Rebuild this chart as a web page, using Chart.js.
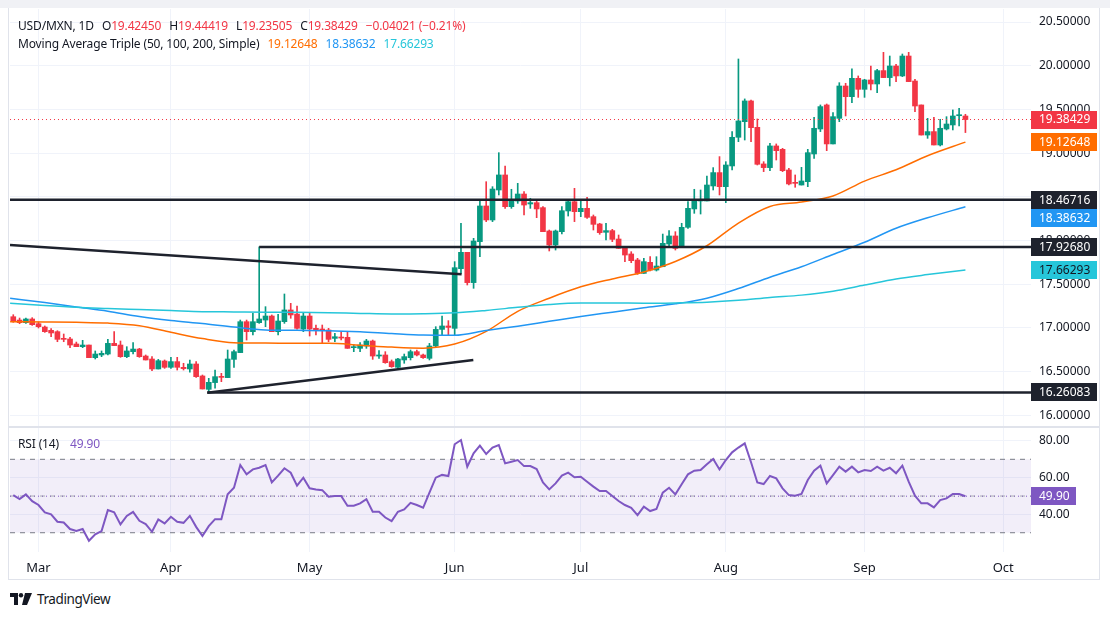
<!DOCTYPE html>
<html lang="en">
<head>
<meta charset="UTF-8">
<title>USD/MXN 1D</title>
<script src="https://cdn.jsdelivr.net/npm/chart.js"></script>
<style>
    body { margin: 0; width: 1110px; height: 618px; background: #ffffff; font-family: "Noto Sans", sans-serif; color: #131722; position: relative; overflow: hidden; }
    .topband { position: absolute; left: 0; top: 0; width: 1110px; height: 8px; background: #f0f1f5; }
    .frame { position: absolute; left: 8px; top: 8px; width: 1090px; height: 571px; border: 1.5px solid #e0e3eb; border-top: none; }
    .divider { position: absolute; left: 9px; top: 426px; width: 1091px; height: 1.5px; background: #e0e3eb; }
    canvas { position: absolute; left: 10px; }
    #priceChart { top: 9px; }
    #rsiChart { top: 427px; }
    .legend { position: absolute; left: 18px; font-size: 12px; line-height: 18px; white-space: nowrap; letter-spacing: -0.15px; }
    .legend span { margin-left: 5px; }
    .red { color: #f23645; font-weight: normal; }
    .logo { position: absolute; left: 10px; top: 590px; display: flex; align-items: center; font-size: 13.5px; letter-spacing: -0.4px; }
</style>
</head>
<body>
<div class="topband"></div>
<div class="frame"></div>
<canvas id="priceChart" width="1090" height="418"></canvas>
<canvas id="rsiChart" width="1090" height="153"></canvas>
<div class="divider"></div>

<div class="legend" style="top:17px">USD/MXN, 1D <span>O<b class="red">19.42450</b></span> <span>H<b class="red">19.44419</b></span> <span>L<b class="red">19.23505</b></span> <span>C<b class="red">19.38429</b></span> <span class="red">&minus;0.04021 (&minus;0.21%)</span></div>
<div class="legend" style="top:35px">Moving Average Triple (50, 100, 200, Simple) <span style="color:#ff6d00">19.12648</span> <span style="color:#2196f3">18.38632</span> <span style="color:#26c6da">17.66293</span></div>
<div class="legend" style="top:435px">RSI (14) <span style="color:#7e57c2;margin-left:8px">49.90</span></div>

<div class="logo">
    <svg width="22" height="12" viewBox="0 0 22 12">
        <path d="M0 0 H8 V12 H4 V4 H0 Z" fill="#131722"/>
        <circle cx="11" cy="2.2" r="2.2" fill="#131722"/>
        <path d="M15 0 H22 L17 12 H12 Z" fill="#131722"/>
    </svg>
    <span style="margin-left:5px">TradingView</span>
</div>

<script>
    // daily candles, Feb 26 .. Sep 24
    const opens = [
        17.128, 17.090, 17.060, 17.102, 17.048, 17.010, 16.972, 16.957, 16.880, 16.873,
        16.816, 16.785, 16.804, 16.659, 16.690, 16.701, 16.823, 16.804, 16.671, 16.728,
        16.758, 16.678, 16.644, 16.530, 16.621, 16.549, 16.614, 16.549, 16.530, 16.587,
        16.450, 16.297, 16.374, 16.442, 16.431, 16.640, 16.717, 17.071, 16.957, 17.060,
        17.090, 17.136, 16.957, 17.071, 17.205, 17.159, 16.987, 17.136, 16.995, 16.987,
        16.976, 16.880, 16.892, 16.892, 16.774, 16.766, 16.793, 16.850, 16.678, 16.690,
        16.614, 16.549, 16.633, 16.659, 16.728, 16.690, 16.652, 16.793, 16.983, 17.022,
        16.995, 17.678, 17.865, 17.518, 17.987, 18.395, 18.235, 18.578, 18.750, 18.387,
        18.452, 18.532, 18.418, 18.433, 18.376, 18.109, 17.949, 18.101, 18.338, 18.444,
        18.330, 18.368, 18.273, 18.189, 18.094, 18.113, 18.017, 17.918, 17.846, 17.777,
        17.624, 17.750, 17.662, 17.700, 17.960, 18.052, 17.930, 18.151, 18.361, 18.452,
        18.452, 18.624, 18.777, 18.616, 18.853, 19.181, 19.360, 19.597, 19.295, 18.876,
        18.834, 19.082, 19.043, 18.807, 18.662, 18.635, 18.673, 18.990, 19.276, 19.551,
        19.105, 19.398, 19.768, 19.646, 19.856, 19.730, 19.837, 19.791, 19.944, 19.864,
        19.997, 19.883, 20.111, 19.825, 19.551, 19.207, 19.246, 19.093, 19.276, 19.322,
        19.428, 19.4245
    ];
    const highs = [
        17.151, 17.113, 17.113, 17.117, 17.067, 17.022, 16.991, 16.968, 16.930, 16.892,
        16.838, 16.858, 16.804, 16.736, 16.736, 16.869, 16.957, 16.850, 16.785, 16.831,
        16.766, 16.690, 16.671, 16.640, 16.633, 16.663, 16.663, 16.595, 16.633, 16.614,
        16.461, 16.423, 16.518, 16.480, 16.747, 16.747, 17.090, 17.090, 17.167, 17.927,
        17.243, 17.148, 17.155, 17.388, 17.281, 17.250, 17.167, 17.167, 17.033, 17.033,
        16.995, 16.938, 16.957, 16.957, 16.804, 16.831, 16.869, 16.861, 16.740, 16.728,
        16.633, 16.652, 16.701, 16.747, 16.747, 16.701, 16.823, 17.014, 17.136, 17.083,
        17.758, 18.197, 17.865, 18.025, 18.463, 18.673, 18.616, 19.005, 18.852, 18.586,
        18.654, 18.559, 18.483, 18.464, 18.387, 18.120, 18.120, 18.387, 18.471, 18.597,
        18.452, 18.494, 18.292, 18.197, 18.197, 18.128, 18.063, 17.929, 17.872, 17.796,
        17.796, 17.815, 17.815, 18.074, 18.113, 18.101, 18.197, 18.444, 18.586, 18.578,
        18.738, 18.834, 18.960, 18.902, 19.246, 20.077, 19.620, 19.608, 19.391, 18.902,
        19.112, 19.105, 19.055, 18.826, 18.750, 18.837, 19.043, 19.410, 19.551, 19.562,
        19.463, 19.806, 19.799, 19.963, 19.883, 19.845, 19.997, 19.959, 20.153, 20.111,
        20.016, 20.134, 20.153, 19.845, 19.551, 19.398, 19.410, 19.387, 19.417, 19.494,
        19.513, 19.44419
    ];
    const lows = [
        17.064, 17.048, 17.052, 17.029, 16.999, 16.949, 16.900, 16.842, 16.842, 16.774,
        16.785, 16.774, 16.659, 16.644, 16.671, 16.690, 16.797, 16.663, 16.659, 16.701,
        16.663, 16.633, 16.511, 16.530, 16.537, 16.537, 16.518, 16.518, 16.492, 16.434,
        16.301, 16.261, 16.309, 16.385, 16.431, 16.549, 16.717, 16.861, 16.919, 17.052,
        17.014, 16.957, 16.919, 17.052, 17.110, 16.984, 16.957, 16.907, 16.919, 16.831,
        16.842, 16.842, 16.861, 16.766, 16.728, 16.728, 16.766, 16.640, 16.652, 16.595,
        16.549, 16.537, 16.595, 16.633, 16.678, 16.652, 16.633, 16.785, 16.919, 16.919,
        16.919, 17.624, 17.491, 17.453, 17.815, 18.216, 18.216, 18.521, 18.368, 18.368,
        18.425, 18.292, 18.368, 18.261, 18.101, 17.880, 17.891, 18.074, 18.280, 18.216,
        18.273, 18.254, 18.120, 18.071, 18.006, 17.987, 17.910, 17.758, 17.746, 17.613,
        17.624, 17.651, 17.651, 17.700, 17.922, 17.891, 17.930, 18.139, 18.311, 18.303,
        18.452, 18.578, 18.521, 18.433, 18.807, 19.131, 19.150, 19.131, 18.864, 18.788,
        18.799, 18.921, 18.788, 18.635, 18.609, 18.635, 18.616, 18.940, 19.246, 19.028,
        19.105, 19.360, 19.425, 19.577, 19.638, 19.638, 19.722, 19.692, 19.864, 19.768,
        19.818, 19.875, 19.818, 19.474, 19.207, 19.169, 19.093, 19.082, 19.265, 19.265,
        19.310, 19.23505
    ];
    const closes = [
        17.079, 17.060, 17.102, 17.037, 17.014, 16.957, 16.942, 16.869, 16.869, 16.804,
        16.785, 16.804, 16.659, 16.701, 16.709, 16.823, 16.797, 16.671, 16.736, 16.758,
        16.671, 16.633, 16.530, 16.625, 16.549, 16.614, 16.549, 16.534, 16.587, 16.442,
        16.301, 16.377, 16.442, 16.434, 16.644, 16.728, 17.071, 16.957, 17.071, 17.102,
        17.136, 16.957, 17.079, 17.205, 17.148, 16.995, 17.136, 16.987, 16.976, 16.976,
        16.869, 16.899, 16.884, 16.766, 16.785, 16.804, 16.850, 16.678, 16.690, 16.602,
        16.556, 16.644, 16.671, 16.728, 16.690, 16.659, 16.793, 16.983, 17.022, 17.006,
        17.689, 17.865, 17.518, 17.994, 18.395, 18.235, 18.589, 18.750, 18.387, 18.471,
        18.532, 18.406, 18.433, 18.361, 18.101, 17.949, 18.109, 18.341, 18.444, 18.330,
        18.368, 18.265, 18.185, 18.090, 18.113, 18.013, 17.910, 17.834, 17.769, 17.624,
        17.758, 17.662, 17.708, 17.968, 18.052, 17.910, 18.151, 18.368, 18.452, 18.471,
        18.635, 18.777, 18.616, 18.864, 19.181, 19.368, 19.597, 19.291, 18.872, 18.834,
        19.082, 19.028, 18.799, 18.647, 18.654, 18.681, 19.005, 19.284, 19.532, 19.105,
        19.417, 19.768, 19.646, 19.856, 19.730, 19.837, 19.791, 19.944, 19.864, 19.997,
        19.883, 20.111, 19.818, 19.539, 19.207, 19.246, 19.093, 19.284, 19.333, 19.425,
        19.436, 19.38429
    ];

    // RSI(14), one value per candle
    const rsi = [
        50.5, 48.3, 50.9, 47.2, 45.1, 41.1, 40.0, 36.0, 35.6, 32.0,
        30.9, 32.0, 25.6, 29.1, 30.9, 42.3, 41.1, 34.5, 39.1, 41.4,
        36.5, 34.7, 30.5, 37.2, 35.1, 38.7, 36.0, 35.4, 39.2, 33.2,
        28.2, 33.6, 37.4, 37.4, 50.9, 54.5, 66.9, 61.8, 64.5, 65.4,
        66.9, 57.4, 61.1, 65.1, 62.7, 55.6, 60.0, 54.2, 53.6, 53.2,
        49.6, 50.0, 50.0, 44.7, 44.7, 46.0, 48.3, 41.4, 41.4, 38.3,
        36.3, 41.4, 42.7, 46.3, 45.1, 43.6, 51.8, 60.0, 61.5, 60.9,
        78.2, 80.5, 66.0, 73.3, 77.4, 72.9, 76.4, 77.8, 67.8, 68.7,
        69.6, 66.3, 66.3, 64.7, 57.4, 53.6, 56.9, 61.1, 62.7, 60.2,
        60.5, 57.8, 55.1, 52.7, 52.7, 50.0, 47.3, 45.1, 43.6, 39.6,
        44.2, 41.8, 42.9, 51.8, 54.5, 50.9, 56.4, 61.8, 63.8, 64.2,
        67.3, 70.2, 64.5, 69.6, 73.8, 76.4, 78.7, 68.4, 57.4, 56.5,
        60.9, 59.6, 54.2, 50.5, 50.2, 51.1, 58.7, 63.8, 66.5, 56.9,
        61.4, 66.0, 63.3, 66.0, 62.9, 64.2, 63.6, 66.0, 63.8, 65.4,
        62.4, 66.5, 57.8, 50.2, 46.0, 46.0, 43.8, 47.8, 48.7, 51.1,
        51.1, 49.9
    ];

    // moving averages, sampled at these candle positions
    const maIdx = [-0.5, 5, 10, 15, 20, 25, 30, 35, 40, 45, 50, 55, 60, 65, 70, 75,
        80, 85, 90, 95, 100, 105, 110, 115, 120, 125, 130, 135, 140, 145, 151];
    const sma50 = [17.071, 17.068, 17.064, 17.055, 17.025, 16.950, 16.878, 16.830, 16.826, 16.823,
        16.823, 16.802, 16.780, 16.768, 16.815, 16.960, 17.190, 17.340, 17.470, 17.560,
        17.640, 17.760, 17.940, 18.200, 18.390, 18.440, 18.510, 18.680, 18.810, 18.970, 19.126];
    const sma100 = [17.338, 17.290, 17.240, 17.190, 17.130, 17.085, 17.050, 17.010, 16.977, 16.972,
        16.968, 16.955, 16.935, 16.918, 16.915, 16.970, 17.020, 17.075, 17.130, 17.180,
        17.230, 17.275, 17.340, 17.450, 17.580, 17.700, 17.840, 17.980, 18.140, 18.260, 18.386];
    const sma200 = [17.281, 17.255, 17.235, 17.222, 17.210, 17.198, 17.186, 17.183, 17.180, 17.178,
        17.173, 17.166, 17.160, 17.162, 17.172, 17.200, 17.235, 17.268, 17.285, 17.285,
        17.282, 17.286, 17.294, 17.315, 17.348, 17.375, 17.420, 17.490, 17.560, 17.610, 17.663];

    // drawn lines: [x1, price1, x2, price2] in candle positions
    const trendLines = [
        [-0.52, 17.948, 71.1, 17.613],
        [30.77, 16.259, 72.96, 16.633],
        [30.77, 16.26083, 161.4, 16.26083],
        [39.0, 17.9268, 161.4, 17.9268],
        [-0.52, 18.46716, 161.4, 18.46716]
    ];

    const monthPos = [4, 25, 47, 70, 90, 113, 135, 157];
    const monthNames = ['Mar', 'Apr', 'May', 'Jun', 'Jul', 'Aug', 'Sep', 'Oct'];
    const priceTicks = [16, 16.5, 17, 17.5, 18, 18.5, 19, 19.5, 20, 20.5];
    const rsiTicks = [40, 60, 80];

    const lastClose = 19.38429;
    const lastRsi = 49.90;
    const priceBadges = [
        { v: 19.38429, bg: '#f23645', fg: '#ffffff' },
        { v: 19.12648, bg: '#ff6d00', fg: '#ffffff' },
        { v: 18.46716, bg: '#1e222d', fg: '#ffffff' },
        { v: 18.38632, bg: '#2196f3', fg: '#ffffff' },
        { v: 17.92680, bg: '#1e222d', fg: '#ffffff' },
        { v: 17.66293, bg: '#26c6da', fg: '#131722' },
        { v: 16.26083, bg: '#1e222d', fg: '#ffffff' }
    ];
    const rsiBadges = [{ v: lastRsi, bg: '#7e57c2', fg: '#ffffff' }];

    const GREEN = '#089981', RED = '#f23645', GRID = '#f0f3fa';
    const X_MIN = -0.52, X_MAX = 161.4;
    const FONT = { family: 'Noto Sans', size: 12 };

    const candleColors = closes.map((c, i) => c >= opens[i] ? GREEN : RED);

    function xScale(showLabels) {
        return {
            type: 'linear', min: X_MIN, max: X_MAX, offset: false,
            afterBuildTicks: s => { s.ticks = monthPos.map(v => ({ value: v })); },
            afterFit: s => {
                s.height = showLabels ? 28 : 0;
                s.paddingLeft = 0; s.paddingRight = 0;
            },
            grid: { color: GRID, drawTicks: false, offset: false },
            border: { display: false },
            ticks: {
                display: showLabels, padding: 8, color: '#131722',
                font: { family: 'Noto Sans', size: 13 }, maxRotation: 0,
                callback: v => monthNames[monthPos.indexOf(v)]
            }
        };
    }

    function yScale(min, max, ticks, digits) {
        return {
            position: 'right', min: min, max: max,
            afterBuildTicks: s => { s.ticks = ticks.map(v => ({ value: v })); },
            afterFit: s => {
                s.width = 69;
                s.paddingTop = 0; s.paddingBottom = 0;
            },
            grid: { color: GRID, drawTicks: false },
            border: { display: false },
            ticks: { padding: 8, color: '#131722', font: FONT, callback: v => v.toFixed(digits) }
        };
    }

    function hline(y, color, dash, width) {
        return {
            type: 'line', data: [{ x: X_MIN, y: y }, { x: X_MAX, y: y }],
            borderColor: color, borderWidth: width || 1, borderDash: dash, pointRadius: 0, order: 1
        };
    }

    // badges on the right axis, pushed apart when they overlap
    function badgePlugin(list, width, digits) {
        return {
            id: 'badges',
            afterDraw(chart) {
                const { ctx, chartArea, scales } = chart;
                const h = 18;
                const items = list.map(b => Object.assign({ y: scales.y.getPixelForValue(b.v) }, b))
                    .sort((a, b) => a.y - b.y);
                for (let i = 1; i < items.length; i++) {
                    if (items[i].y - items[i - 1].y < h) items[i].y = items[i - 1].y + h;
                }
                ctx.save();
                ctx.font = '12px "Noto Sans"';
                ctx.textBaseline = 'middle';
                items.forEach(b => {
                    ctx.fillStyle = b.bg;
                    ctx.fillRect(chartArea.right, Math.round(b.y - h / 2), width, h);
                    ctx.fillStyle = b.fg;
                    ctx.fillText(b.v.toFixed(digits), chartArea.right + 8, b.y + 0.5);
                });
                ctx.restore();
            }
        };
    }

    const maLine = (vals, color) => ({
        type: 'line', data: maIdx.map((x, i) => ({ x: x, y: vals[i] })),
        borderColor: color, borderWidth: 1.5, pointRadius: 0,
        cubicInterpolationMode: 'monotone', order: 3
    });

    new Chart(document.getElementById('priceChart'), {
        type: 'bar',
        data: {
            datasets: [
                {
                    data: lows.map((l, i) => ({ x: i, y: [l, highs[i]] })),
                    backgroundColor: candleColors, barThickness: 1, grouped: false, order: 5
                },
                {
                    data: opens.map((o, i) => ({ x: i, y: [o, closes[i]] })),
                    backgroundColor: candleColors, barThickness: 5, minBarLength: 1, grouped: false, order: 4
                },
                maLine(sma200, '#26c6da'),
                maLine(sma100, '#2196f3'),
                maLine(sma50, '#ff6d00'),
                ...trendLines.map(t => ({
                    type: 'line', data: [{ x: t[0], y: t[1] }, { x: t[2], y: t[3] }],
                    borderColor: '#1e222d', borderWidth: 2.5, pointRadius: 0, order: 2
                })),
                hline(lastClose, RED, [1, 3])
            ]
        },
        options: {
            responsive: false, animation: false,
            layout: { padding: 0 },
            plugins: { legend: { display: false }, tooltip: { enabled: false } },
            scales: { x: xScale(false), y: yScale(15.866, 20.649, priceTicks, 5) }
        },
        plugins: [badgePlugin(priceBadges, 66, 5)]
    });

    const bandPlugin = {
        id: 'rsiBand',
        beforeDatasetsDraw(chart) {
            const { ctx, chartArea, scales } = chart;
            const top = scales.y.getPixelForValue(70), bottom = scales.y.getPixelForValue(30);
            ctx.save();
            ctx.fillStyle = 'rgba(126, 87, 194, 0.1)';
            ctx.fillRect(chartArea.left, top, chartArea.right - chartArea.left, bottom - top);
            ctx.restore();
        }
    };

    new Chart(document.getElementById('rsiChart'), {
        type: 'line',
        data: {
            datasets: [
                hline(70, '#787b86', [5, 5]),
                hline(50, 'rgba(120, 123, 134, 0.6)', [5, 5]),
                hline(30, '#787b86', [5, 5]),
                hline(lastRsi, '#7e57c2', [1, 3]),
                {
                    data: rsi.map((v, i) => ({ x: i, y: v })),
                    borderColor: '#7e57c2', borderWidth: 2, pointRadius: 0, tension: 0, order: 0
                }
            ]
        },
        options: {
            responsive: false, animation: false,
            layout: { padding: 0 },
            plugins: { legend: { display: false }, tooltip: { enabled: false } },
            scales: { x: xScale(true), y: yScale(19.5, 87.6, rsiTicks, 2) }
        },
        plugins: [bandPlugin, badgePlugin(rsiBadges, 45, 2)]
    });
</script>
</body>
</html>
